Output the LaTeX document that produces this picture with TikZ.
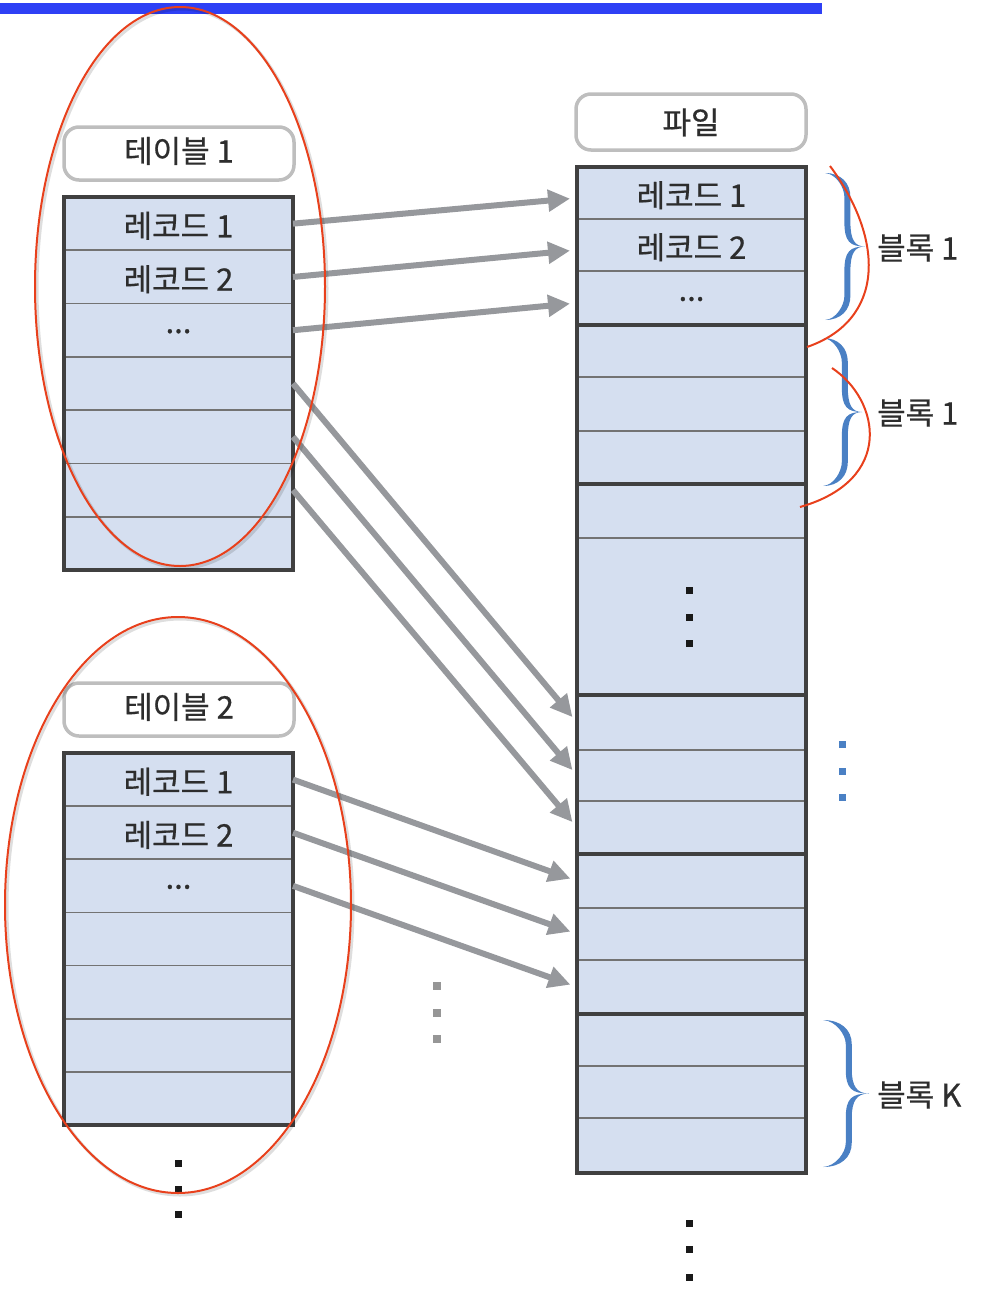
\documentclass[tikz,border=0pt]{standalone}
\usepackage{fontspec}
\setmainfont{Noto Sans CJK KR}[FakeBold=0.6]
\usetikzlibrary{arrows.meta}
\definecolor{cellfill}{RGB}{213,223,240}
\definecolor{framecol}{RGB}{64,64,64}
\definecolor{rowline}{RGB}{115,115,115}
\definecolor{arrowgray}{RGB}{150,152,156}
\definecolor{titleline}{RGB}{190,190,190}
\definecolor{bracecol}{RGB}{74,128,196}
\definecolor{redmark}{RGB}{232,64,28}
\definecolor{barblue}{RGB}{46,64,245}
\definecolor{txt}{RGB}{45,45,45}
\definecolor{dotgray}{RGB}{150,150,150}
\definecolor{dotblack}{RGB}{25,25,25}
\newcommand\myell{\raisebox{11pt}{...}}
% one tapered arm of a brace, in local coordinates (end at origin, tip at (\ba,\bh))
\newcommand\bracearm[1]{%
  \fill[bracecol,#1] (0,0) .. controls ({0.7*\bs},0) and ({\bs+3},{0.4*\br}) .. ({\bs+3},\br)
    -- ({\bs+3},{\bh-\br})
    .. controls ({\bs+3},{\bh-0.3*\br}) and ({\bs+0.4*(\ba-\bs)},\bh) .. (\ba,\bh)
    .. controls ({\bs+0.15*(\ba-\bs)},\bh) and ({\bs-3},{\bh-0.2*\br}) .. ({\bs-3},{\bh-\br})
    -- ({\bs-3},\br)
    .. controls ({\bs-3},{0.6*\br}) and ({0.5*\bs},0.8) .. (0,0) -- cycle;}
\newcommand\tbrace[4]{%
  \pgfmathsetmacro\bh{(#3-#2)/2}%
  \pgfmathsetmacro\ba{#4}%
  \pgfmathsetmacro\bs{0.56*#4}%
  \pgfmathsetmacro\br{0.33*\bh}%
  \bracearm{shift={(#1,#2)}}%
  \bracearm{shift={(#1,#3)},yscale=-1}}
\tikzset{
  cell/.style={draw=rowline, line width=1.6pt, fill=cellfill, minimum width=229pt,
    inner sep=0pt, outer sep=0pt, text=txt, font=\fontsize{31}{31}\selectfont,
    text height=27.6pt, text depth=0pt},
  titlebox/.style={draw=titleline, line width=3.5pt, rounded corners=15pt, fill=white,
    minimum width=230pt, minimum height=53pt, inner sep=0pt, outer sep=0pt, text=txt,
    font=\fontsize{31}{31}\selectfont, text depth=0pt},
  frameline/.style={draw=framecol, line width=3.5pt},
  link/.style={draw=arrowgray, line width=6pt, -{Triangle[length=22pt,width=21pt]}, shorten >=7pt},
  lbl/.style={anchor=west, inner sep=0pt, text=txt, font=\fontsize{31}{31}\selectfont},
  redring/.style={draw=redmark, line width=2pt},
  redshadow/.style={draw=black, opacity=0.13, line width=3pt},
}
\begin{document}
\begin{tikzpicture}[x=1pt,y=-1pt]
\useasboundingbox (0,0) rectangle (992,1296);
% top bar
\fill[barblue] (0,3) rectangle (822,14);

% Table 1
\node[titlebox, text height=18pt] (t1title) at (179,153.5) {테이블 1};
\foreach \i/\t in {1/레코드 1,2/레코드 2,3/\myell,4/{},5/{},6/{},7/{}}{
  \pgfmathsetmacro{\yc}{197+(\i-0.5)*53.29}
  \node[cell, minimum height=53.29pt] (t1r\i) at (178.5,\yc) {\t};
}
\draw[frameline] (t1r1.north west) rectangle (t1r7.south east);

% Table 2
\node[titlebox, text height=18pt] (t2title) at (179,709.5) {테이블 2};
\foreach \i/\t in {1/레코드 1,2/레코드 2,3/\myell,4/{},5/{},6/{},7/{}}{
  \pgfmathsetmacro{\yc}{753+(\i-0.5)*53.14}
  \node[cell, minimum height=53.14pt] (t2r\i) at (178.5,\yc) {\t};
}
\draw[frameline] (t2r1.north west) rectangle (t2r7.south east);

% File
\node[titlebox, minimum height=56pt, text height=24pt] (ftitle) at (691,122) {파일};
\foreach \i/\a/\b/\t in {1/167/219/레코드 1,2/219/271/레코드 2,3/271/325/\myell,
  4/325/377/{},5/377/431/{},6/431/484/{},7/484/538/{},8/538/695/{},
  9/695/750/{},10/750/801/{},11/801/854/{},12/854/908/{},13/908/960/{},14/960/1014/{},
  15/1014/1066/{},16/1066/1118/{},17/1118/1173/{}}{
  \pgfmathsetmacro{\yc}{(\a+\b)/2}
  \pgfmathsetmacro{\hh}{\b-\a}
  \node[cell, minimum height=\hh pt] (f\i) at (691.5,\yc) {\t};
}
\draw[frameline] (f1.north west) rectangle (f3.south east);
\draw[frameline] (f4.north west) rectangle (f6.south east);
\draw[frameline] (f7.north west) rectangle (f8.south east);
\draw[frameline] (f9.north west) rectangle (f11.south east);
\draw[frameline] (f12.north west) rectangle (f14.south east);
\draw[frameline] (f15.north west) rectangle (f17.south east);

% arrows
\draw[link] (t1r1.east) -- ([yshift=-5pt]f1.west);
\draw[link] (t1r2.east) -- ([yshift=-5pt]f2.west);
\draw[link] (t1r3.east) -- ([yshift=-5pt]f3.west);
\draw[link] (t1r4.east) -- (f9.west);
\draw[link] (t1r5.east) -- (f10.west);
\draw[link] (t1r6.east) -- (f11.west);
\draw[link] (t2r1.east) -- (f12.west);
\draw[link] (t2r2.east) -- (f13.west);
\draw[link] (t2r3.east) -- (f14.west);

% dots
\foreach \y in {590,617,643} \fill[dotblack] (686,\y-3.5) rectangle ++(7,7);
\foreach \y in {1223,1249,1277} \fill[dotblack] (686,\y-3.5) rectangle ++(7,7);
\foreach \y in {1163,1189,1214} \fill[dotblack] (174.5,\y-3.5) rectangle ++(7,7);
\foreach \y in {986,1013,1039} \fill[dotgray] (433,\y-4) rectangle ++(8,8);
\foreach \y in {744,771,797} \fill[bracecol] (838.5,\y-3.5) rectangle ++(7,7);

% braces
\tbrace{825}{173}{320}{40}
\tbrace{823}{338}{486}{39}
\tbrace{823}{1020}{1167}{46}
\node[lbl] (b1) at (877,248) {블록 1};
\node[lbl] (b2) at (877,413) {블록 1};
\node[lbl] (bk) at (877,1095) {블록 K};

% red hand marks
\draw[redshadow] (182,288.5) ellipse [x radius=145, y radius=279.5];
\draw[redring] (180,286.5) ellipse [x radius=145, y radius=279.5];
\draw[redshadow] (180,907) ellipse [x radius=173, y radius=288];
\draw[redring] (178,905) ellipse [x radius=173, y radius=288];
\draw[redring] (830,166) .. controls (885,240) and (885,320) .. (807,347);
\draw[redring] (832,368) .. controls (880,400) and (895,480) .. (800,507);
\end{tikzpicture}
\end{document}
